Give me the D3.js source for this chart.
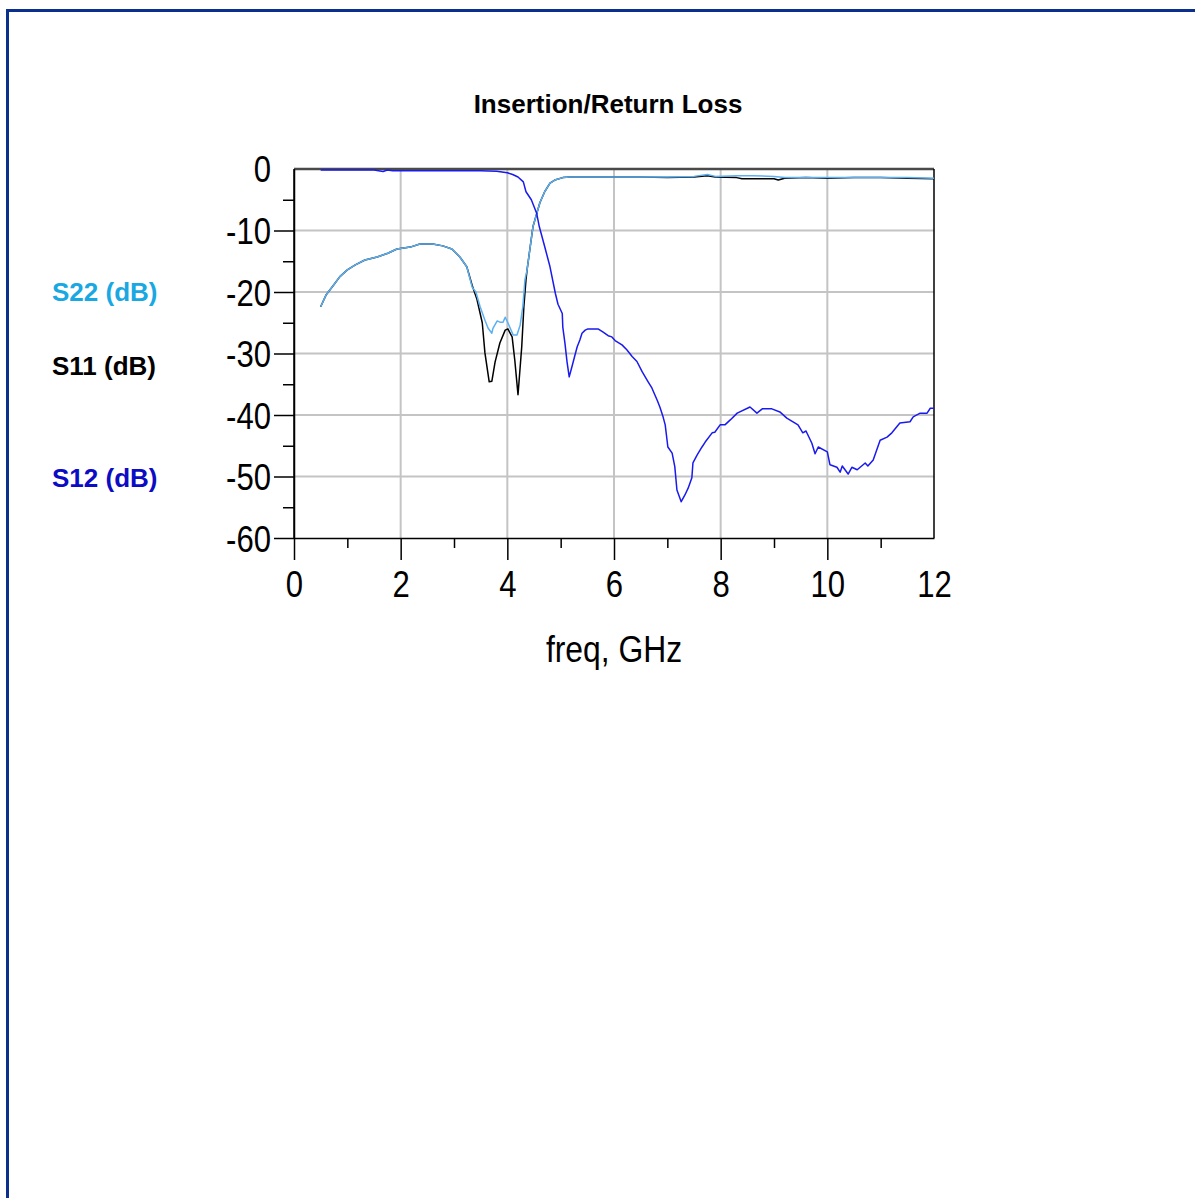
<!DOCTYPE html>
<html>
<head>
<meta charset="utf-8">
<script src="https://cdn.jsdelivr.net/npm/d3@7"></script>
<style>
  body { margin: 0; background: #fff; }
  svg { display: block; }
</style>
</head>
<body>
<div id="chart"></div>
<script>
// S-parameter data: [freq GHz, dB]
const s12 = [
  [0.5, -0.15], [1.0, -0.15], [1.5, -0.15], [1.67, -0.4], [1.75, -0.15], [1.85, -0.3],
  [2.5, -0.3], [3.0, -0.3], [3.5, -0.3], [3.8, -0.35], [4.0, -0.6], [4.1, -0.9],
  [4.2, -1.3], [4.3, -2.1], [4.35, -3.7], [4.45, -5.0], [4.55, -7.2], [4.6, -9.4],
  [4.7, -12.6], [4.8, -15.9], [4.9, -20.2], [4.95, -22.0], [5.03, -23.5], [5.04, -25.7],
  [5.08, -28.3], [5.12, -31.4], [5.16, -33.8], [5.21, -32.2], [5.27, -30.2], [5.31, -28.9],
  [5.36, -27.8], [5.40, -26.7], [5.46, -26.2], [5.51, -26.0], [5.70, -26.0], [5.79, -26.5],
  [5.89, -27.1], [5.96, -27.3], [6.02, -27.9], [6.15, -28.6], [6.24, -29.4], [6.34, -30.5],
  [6.43, -31.3], [6.53, -33.0], [6.64, -34.6], [6.71, -35.6], [6.81, -37.6], [6.86, -38.7],
  [6.92, -40.3], [6.96, -41.6], [7.01, -45.2], [7.09, -46.2], [7.14, -48.4], [7.18, -52.2],
  [7.26, -54.1], [7.33, -53.0], [7.39, -51.9], [7.46, -50.2], [7.48, -47.8], [7.56, -46.5],
  [7.65, -45.2], [7.71, -44.4], [7.84, -42.9], [7.89, -42.8], [7.99, -41.6], [8.08, -41.6],
  [8.18, -40.8], [8.31, -39.7], [8.55, -38.7], [8.68, -39.7], [8.78, -39.0], [8.96, -39.0],
  [9.11, -39.5], [9.24, -40.5], [9.45, -41.6], [9.54, -42.9], [9.60, -42.6], [9.71, -44.6],
  [9.77, -46.3], [9.83, -45.2], [10.0, -46.0], [10.05, -48.1], [10.18, -48.5], [10.24, -49.3],
  [10.28, -48.3], [10.39, -49.6], [10.46, -48.5], [10.56, -48.9], [10.71, -47.8], [10.76, -48.3],
  [10.86, -47.3], [10.99, -44.1], [11.12, -43.6], [11.21, -42.9], [11.36, -41.3], [11.55, -41.1],
  [11.61, -40.3], [11.74, -39.7], [11.87, -39.7], [11.93, -38.9], [12.0, -38.9]
];

const s11 = [
  [0.5, -22.4], [0.6, -20.5], [0.74, -18.9], [0.86, -17.5], [1.0, -16.4], [1.15, -15.6],
  [1.33, -14.8], [1.56, -14.3], [1.76, -13.7], [1.93, -13.0], [2.18, -12.7], [2.36, -12.2],
  [2.6, -12.2], [2.79, -12.5], [2.96, -13.0], [3.11, -14.3], [3.24, -15.9], [3.34, -18.9],
  [3.43, -21.2], [3.53, -25.0], [3.58, -29.9], [3.66, -34.6], [3.71, -34.5], [3.77, -31.4],
  [3.86, -28.3], [3.96, -26.2], [4.01, -26.0], [4.09, -27.3], [4.14, -31.1], [4.20, -36.7],
  [4.27, -28.9], [4.31, -22.4], [4.35, -18.0], [4.37, -16.4], [4.48, -9.4], [4.61, -5.5],
  [4.70, -3.7], [4.80, -2.3], [4.89, -1.8], [5.04, -1.4], [5.17, -1.3], [6.0, -1.3],
  [6.5, -1.3], [7.0, -1.4], [7.5, -1.3], [7.75, -1.1], [7.9, -1.3], [8.3, -1.4],
  [8.4, -1.6], [9.0, -1.6], [9.08, -1.8], [9.2, -1.5], [9.6, -1.4], [10.0, -1.5],
  [10.5, -1.4], [11.0, -1.4], [11.5, -1.5], [12.0, -1.6]
];

const s22 = [
  [0.5, -22.4], [0.6, -20.5], [0.74, -18.9], [0.86, -17.5], [1.0, -16.4], [1.15, -15.6],
  [1.33, -14.8], [1.56, -14.3], [1.76, -13.7], [1.93, -13.0], [2.18, -12.7], [2.36, -12.2],
  [2.6, -12.2], [2.79, -12.5], [2.96, -13.0], [3.11, -14.3], [3.24, -15.9], [3.34, -19.2],
  [3.41, -20.0], [3.49, -22.4], [3.58, -24.6], [3.64, -25.9], [3.71, -26.7], [3.73, -25.9],
  [3.81, -24.7], [3.86, -24.9], [3.92, -24.9], [3.96, -24.1], [4.01, -25.0], [4.11, -27.0],
  [4.18, -27.0], [4.24, -25.4], [4.29, -22.4], [4.33, -18.0], [4.37, -16.4], [4.48, -9.4],
  [4.61, -5.5], [4.70, -3.7], [4.80, -2.3], [4.89, -1.8], [5.04, -1.4], [5.17, -1.3],
  [6.0, -1.3], [6.5, -1.3], [7.0, -1.3], [7.5, -1.2], [7.75, -0.9], [7.9, -1.2],
  [8.3, -1.1], [8.6, -1.1], [9.0, -1.2], [9.2, -1.4], [9.6, -1.4], [10.0, -1.4],
  [10.5, -1.4], [11.0, -1.4], [11.5, -1.4], [12.0, -1.5]
];

const xTicks = [0, 2, 4, 6, 8, 10, 12];
const xMinorTicks = [1, 3, 5, 7, 9, 11];
const yTicks = [0, -10, -20, -30, -40, -50, -60];
const yMinorTicks = [-5, -15, -25, -35, -45, -55];

const legend = [
  { name: "S22 (dB)", color: "#1aa8e2", y: 301 },
  { name: "S11 (dB)", color: "#000000", y: 375 },
  { name: "S12 (dB)", color: "#0c0cc4", y: 487 }
];

const W = 1195, H = 1198;
const plot = { left: 294, right: 934, top: 169, bottom: 538 };

const svg = d3.select("#chart")
    .append("svg")
    .attr("width", W)
    .attr("height", H);

// outer page frame
svg.append("rect")
    .attr("x", 7.5)
    .attr("y", 10.5)
    .attr("width", 1300)
    .attr("height", 1300)
    .attr("fill", "none")
    .attr("stroke", "#0a2f8c")
    .attr("stroke-width", 3);

const xScale = d3.scaleLinear().domain([0, 12]).range([plot.left, plot.right]);
const yScale = d3.scaleLinear().domain([-60, 0]).range([plot.bottom, plot.top]);

// narrow look for the axis font (no condensed face installed)
function squeeze(sel, k) {
    sel.each(function() {
        const w = this.getComputedTextLength();
        d3.select(this).attr("textLength", w * k).attr("lengthAdjust", "spacingAndGlyphs");
    });
}

// grid
svg.selectAll(".vgrid")
    .data(xTicks.slice(1, -1))
    .enter().append("line")
    .attr("class", "vgrid")
    .attr("x1", d => xScale(d))
    .attr("x2", d => xScale(d))
    .attr("y1", plot.top)
    .attr("y2", plot.bottom)
    .attr("stroke", "#c4c4c4")
    .attr("stroke-width", 2);

svg.selectAll(".hgrid")
    .data(yTicks.slice(1, -1))
    .enter().append("line")
    .attr("class", "hgrid")
    .attr("x1", plot.left)
    .attr("x2", plot.right)
    .attr("y1", d => yScale(d))
    .attr("y2", d => yScale(d))
    .attr("stroke", "#c4c4c4")
    .attr("stroke-width", 2);

// top and right frame
svg.append("line")
    .attr("x1", plot.left).attr("x2", plot.right)
    .attr("y1", plot.top).attr("y2", plot.top)
    .attr("stroke", "#4a4a4a").attr("stroke-width", 2.5);
svg.append("line")
    .attr("x1", plot.right).attr("x2", plot.right)
    .attr("y1", plot.top).attr("y2", plot.bottom)
    .attr("stroke", "#000").attr("stroke-width", 1.5);

// axes
const tickFont = "'Liberation Sans', Arial, sans-serif";
const fmt = d => String(d);

const yAxis = svg.append("g")
    .attr("transform", `translate(${plot.left},0)`)
    .call(d3.axisLeft(yScale).tickValues(yTicks.slice(1)).tickSize(20).tickSizeOuter(0).tickFormat(fmt));
yAxis.append("g")
    .call(d3.axisLeft(yScale).tickValues(yMinorTicks).tickSize(11).tickFormat(""))
    .select(".domain").remove();
yAxis.selectAll("path, line").attr("stroke", "#000").attr("stroke-width", 1.5);
yAxis.selectAll("text")
    .attr("x", -23)
    .attr("dy", "0.36em")
    .attr("fill", "#000")
    .style("font-family", tickFont)
    .style("font-size", "37px")
    .call(squeeze, 0.84);

// label for 0 sits at the frame top with no tick
svg.append("text")
    .attr("x", plot.left - 23)
    .attr("y", yScale(0))
    .attr("dy", "0.36em")
    .attr("text-anchor", "end")
    .style("font-family", tickFont)
    .style("font-size", "37px")
    .text("0")
    .call(squeeze, 0.84);

svg.append("line")
    .attr("x1", plot.left).attr("x2", plot.left)
    .attr("y1", plot.top).attr("y2", plot.bottom)
    .attr("stroke", "#000").attr("stroke-width", 1.5);

const xAxis = svg.append("g")
    .attr("transform", `translate(0,${plot.bottom})`)
    .call(d3.axisBottom(xScale).tickValues(xTicks).tickSize(22).tickSizeOuter(0).tickFormat(fmt));
xAxis.append("g")
    .call(d3.axisBottom(xScale).tickValues(xMinorTicks).tickSize(10).tickFormat(""))
    .select(".domain").remove();
xAxis.selectAll("path, line").attr("stroke", "#000").attr("stroke-width", 1.5);
xAxis.selectAll(".tick").filter(d => d === 12).select("line").remove();
xAxis.selectAll("text")
    .attr("y", 33)
    .attr("dy", "0.71em")
    .attr("fill", "#000")
    .style("font-family", tickFont)
    .style("font-size", "37px")
    .call(squeeze, 0.84);

svg.append("text")
    .attr("x", 614)
    .attr("y", 662)
    .attr("text-anchor", "middle")
    .style("font-family", tickFont)
    .style("font-size", "37px")
    .text("freq, GHz")
    .call(squeeze, 0.86);

// title
svg.append("text")
    .attr("x", 608)
    .attr("y", 113)
    .attr("text-anchor", "middle")
    .style("font-family", "'Liberation Sans', Arial, sans-serif")
    .style("font-weight", "bold")
    .style("font-size", "26px")
    .text("Insertion/Return Loss");

// legend labels
svg.selectAll(".legend")
    .data(legend)
    .enter().append("text")
    .attr("class", "legend")
    .attr("x", 52)
    .attr("y", d => d.y)
    .attr("fill", d => d.color)
    .style("font-family", "'Liberation Sans', Arial, sans-serif")
    .style("font-weight", "bold")
    .style("font-size", "26px")
    .text(d => d.name);

// traces
const line = d3.line()
    .x(d => xScale(d[0]))
    .y(d => yScale(d[1]));

const traces = [
  { data: s11, color: "#000000" },
  { data: s22, color: "#5cb0f2" },
  { data: s12, color: "#1a1aee" }
];

svg.selectAll(".trace")
    .data(traces)
    .enter().append("path")
    .attr("class", "trace")
    .attr("d", d => line(d.data))
    .attr("fill", "none")
    .attr("stroke", d => d.color)
    .attr("stroke-width", 1.5)
    .attr("stroke-linejoin", "round");
</script>
</body>
</html>
